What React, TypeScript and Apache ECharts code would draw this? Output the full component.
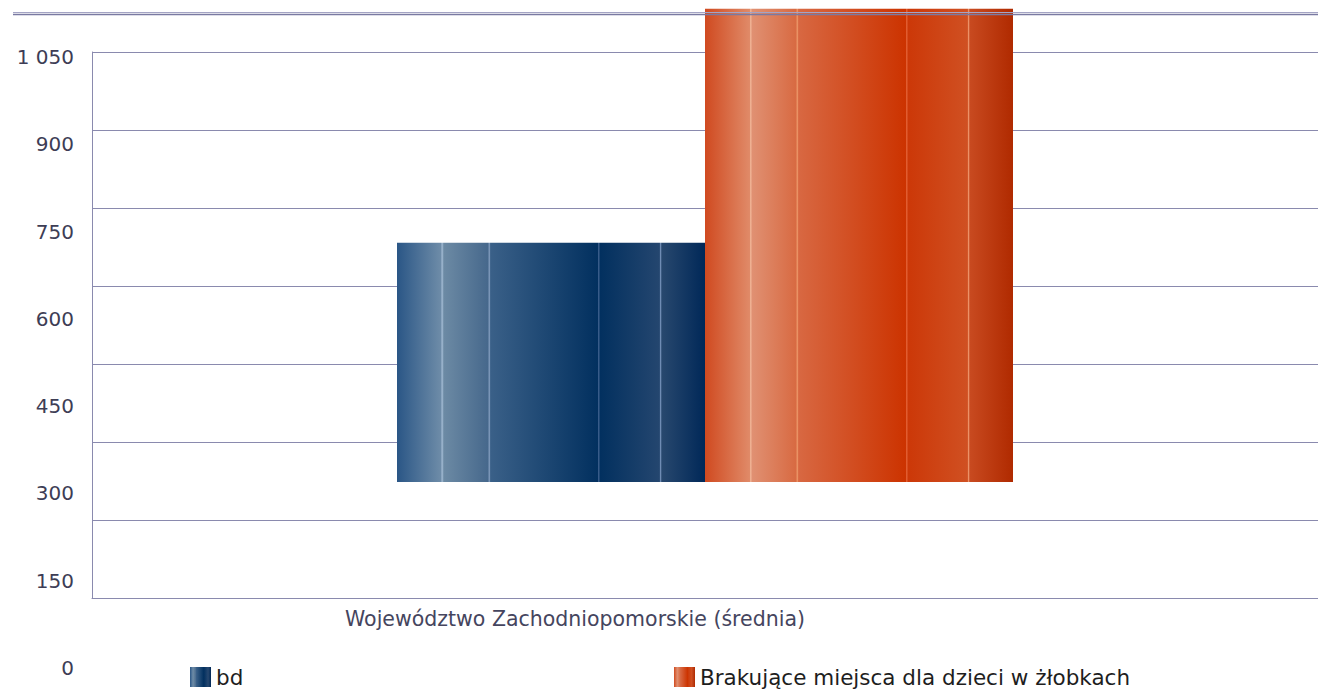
import React, { useEffect, useRef } from "react";
import * as echarts from "echarts";

const categories = ["Województwo Zachodniopomorskie (średnia)"];
const seriesNames = ["bd", "Brakujące miejsca dla dzieci w żłobkach"];
const baseValues = [223];
const bdValues = [460];
const brakValues = [910];
const yTickLabels = ["0", "150", "300", "450", "600", "750", "900", "1 050"];

const FONT = "'DejaVu Sans', sans-serif";

const blueGrad = new echarts.graphic.LinearGradient(0, 0, 1, 0, [
  { offset: 0, color: "#2a5686" },
  { offset: 0.143, color: "#6e8ca8" },
  { offset: 0.146, color: "#a8c0d8" },
  { offset: 0.152, color: "#6c8aa4" },
  { offset: 0.296, color: "#46688c" },
  { offset: 0.299, color: "#90a8c8" },
  { offset: 0.304, color: "#3a6088" },
  { offset: 0.652, color: "#02305f" },
  { offset: 0.655, color: "#4a6a98" },
  { offset: 0.659, color: "#02305f" },
  { offset: 0.852, color: "#24466f" },
  { offset: 0.855, color: "#7894bc" },
  { offset: 0.86, color: "#28486e" },
  { offset: 1, color: "#002858" },
]);

const orangeGrad = new echarts.graphic.LinearGradient(0, 0, 1, 0, [
  { offset: 0, color: "#d04a20" },
  { offset: 0.145, color: "#e08a68" },
  { offset: 0.148, color: "#f0b496" },
  { offset: 0.154, color: "#e09072" },
  { offset: 0.296, color: "#d86a42" },
  { offset: 0.299, color: "#f0a070" },
  { offset: 0.304, color: "#d86842" },
  { offset: 0.652, color: "#cc3300" },
  { offset: 0.655, color: "#e86a40" },
  { offset: 0.659, color: "#cc3808" },
  { offset: 0.852, color: "#d05022" },
  { offset: 0.855, color: "#f09a70" },
  { offset: 0.86, color: "#c84a20" },
  { offset: 1, color: "#b02a00" },
]);

export default function App() {
  const ref = useRef<HTMLDivElement>(null);
  useEffect(() => {
    if (!ref.current) return;
    const chart = echarts.init(ref.current, undefined, { renderer: "svg" });
    const legendText = { fontFamily: FONT, fontSize: 21.5, lineHeight: 20, color: "#1e1e1e" };
    chart.setOption({
      animation: false,
      textStyle: { fontFamily: FONT },
      grid: [
        { left: 92, right: -2, top: 52, bottom: 91 },
        { left: 84, width: 1, top: 57, height: 611 },
      ],
      xAxis: [
        {
          type: "category",
          gridIndex: 0,
          data: categories,
          axisLine: { show: true, lineStyle: { color: "#8a8aae", width: 1 } },
          axisTick: { show: false },
          axisLabel: {
            fontFamily: FONT,
            fontSize: 20.5,
            color: "#45455e",
            margin: 10,
            padding: [0, 260, 0, 0],
          },
        },
        { type: "category", gridIndex: 1, data: [""], show: false },
      ],
      yAxis: [
        {
          type: "value",
          gridIndex: 0,
          min: 0,
          max: 1050,
          interval: 150,
          axisLine: { show: true, lineStyle: { color: "#8a8aae", width: 1 } },
          axisTick: { show: false },
          axisLabel: { show: false },
          splitLine: { show: true, lineStyle: { color: "#8a8aae", width: 1 } },
        },
        {
          type: "value",
          gridIndex: 1,
          min: 0,
          max: 1050,
          interval: 150,
          axisLine: { show: false },
          axisTick: { show: false },
          splitLine: { show: false },
          axisLabel: {
            fontFamily: FONT,
            fontSize: 20,
            color: "#3d3d55",
            margin: 10,
            formatter: (v: number) => yTickLabels[Math.round(v / 150)],
          },
        },
      ],
      legend: [
        {
          left: 190,
          top: 666,
          padding: 0,
          icon: "rect",
          itemWidth: 21,
          itemHeight: 20,
          data: [seriesNames[0]],
          textStyle: legendText,
        },
        {
          left: 674,
          top: 666,
          padding: 0,
          icon: "rect",
          itemWidth: 21,
          itemHeight: 20,
          data: [seriesNames[1]],
          textStyle: legendText,
        },
      ],
      graphic: [
        {
          type: "line",
          z: 100,
          shape: { x1: 13, y1: 12.5, x2: 1318, y2: 12.5 },
          style: { stroke: "#a4a4c4", lineWidth: 1.2 },
        },
        {
          type: "line",
          z: 100,
          shape: { x1: 13, y1: 14.5, x2: 1318, y2: 14.5 },
          style: { stroke: "#7a7aa2", lineWidth: 1.4 },
        },
      ],
      series: [
        {
          type: "bar",
          name: "_base1",
          stack: "a",
          data: baseValues,
          barWidth: 308,
          barGap: "0%",
          itemStyle: { color: "transparent" },
          silent: true,
          clip: false,
        },
        {
          type: "bar",
          name: seriesNames[0],
          stack: "a",
          data: bdValues,
          barWidth: 308,
          barGap: "0%",
          itemStyle: { color: blueGrad },
          clip: false,
        },
        {
          type: "bar",
          name: "_base2",
          stack: "b",
          data: baseValues,
          barWidth: 308,
          barGap: "0%",
          itemStyle: { color: "transparent" },
          silent: true,
          clip: false,
        },
        {
          type: "bar",
          name: seriesNames[1],
          stack: "b",
          data: brakValues,
          barWidth: 308,
          barGap: "0%",
          itemStyle: { color: orangeGrad },
          clip: false,
        },
      ],
    });
    return () => chart.dispose();
  }, []);
  return <div ref={ref} style={{ width: 1318, height: 689, position: "absolute", left: 0, top: 0 }} />;
}
